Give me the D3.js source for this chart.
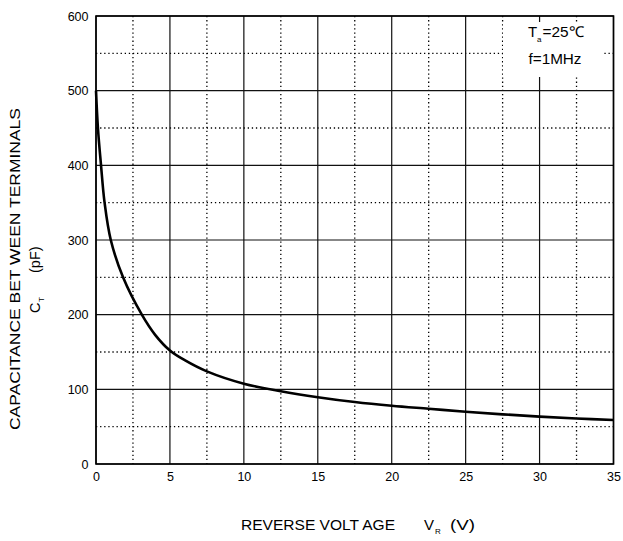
<html>
  <head>
    <script src="https://d3js.org/d3.v7.min.js"></script>
    <style>
      body { margin: 0; background: #fff; }
      svg text { font-family: "Liberation Sans", Arial, sans-serif; fill: #000; }
    </style>
  </head>
  <body>
    <svg class="chart"></svg>
  </body>
  <script>
  // values
  const volts = [0, 0.13, 0.34, 0.58, 1.0, 1.83, 3.1, 4.0, 5.0, 6.0, 7.5, 10, 12.5, 15, 17.5, 20, 22.5, 25, 27.5, 30, 32.5, 35];
  const capacitance = [500, 450, 400, 350, 300, 250, 200, 173, 152, 139, 124, 107.5, 97.5, 89.5, 83, 78, 74, 70, 66.5, 63.5, 61, 59];
  const xMajor = [0, 5, 10, 15, 20, 25, 30, 35];
  const xMinor = [2.5, 7.5, 12.5, 17.5, 22.5, 27.5, 32.5];
  const yMajor = [0, 100, 200, 300, 400, 500, 600];
  const yMinor = [50, 150, 250, 350, 450, 550];

  function drawChart(){
    let width = 623, height = 541;
    let plot = {left: 96, right: 613.5, top: 16, bottom: 464};

    let svg = d3.select('.chart')
      .attr('width', width)
      .attr('height', height)
      .attr('viewBox', [0, 0, width, height]);

    let x = d3.scaleLinear().domain([0, 35]).range([plot.left, plot.right]);
    let y = d3.scaleLinear().domain([0, 600]).range([plot.bottom, plot.top]);

    let grid = svg.append('g');
    // dotted minor grid
    grid.selectAll('.vminor').data(xMinor).join('line')
      .attr('x1', d=>x(d)).attr('x2', d=>x(d))
      .attr('y1', plot.top).attr('y2', plot.bottom)
      .attr('stroke', '#000').attr('stroke-width', 1.3)
      .attr('stroke-dasharray', '1.3,2.8');
    grid.selectAll('.hminor').data(yMinor).join('line')
      .attr('y1', d=>y(d)).attr('y2', d=>y(d))
      .attr('x1', plot.left).attr('x2', plot.right)
      .attr('stroke', '#000').attr('stroke-width', 1.3)
      .attr('stroke-dasharray', '1.3,2.8');
    // solid major grid
    grid.selectAll('.vmajor').data(xMajor).join('line')
      .attr('x1', d=>x(d)).attr('x2', d=>x(d))
      .attr('y1', plot.top).attr('y2', plot.bottom)
      .attr('stroke', '#111').attr('stroke-width', 1.2);
    grid.selectAll('.hmajor').data(yMajor).join('line')
      .attr('y1', d=>y(d)).attr('y2', d=>y(d))
      .attr('x1', plot.left).attr('x2', plot.right)
      .attr('stroke', '#111').attr('stroke-width', 1.2);

    // legend box blanks out the grid
    svg.append('rect')
      .attr('x', 503).attr('y', 22).attr('width', 100).attr('height', 55)
      .attr('fill', '#fff');

    // frame
    svg.append('rect')
      .attr('x', plot.left).attr('y', plot.top)
      .attr('width', plot.right - plot.left).attr('height', plot.bottom - plot.top)
      .attr('fill', 'none').attr('stroke', '#000').attr('stroke-width', 1.6);

    // curve
    let line = d3.line()
      .x((d, i)=>x(volts[i]))
      .y(d=>y(d))
      .curve(d3.curveCatmullRom.alpha(0.5));
    svg.append('path')
      .datum(capacitance)
      .attr('d', line)
      .attr('fill', 'none')
      .attr('stroke', '#000')
      .attr('stroke-width', 2.6);

    // axes (labels only)
    let xAxis = svg.append('g')
      .attr('transform', `translate(0,${plot.bottom})`)
      .call(d3.axisBottom(x).tickValues(xMajor).tickSize(0).tickPadding(8.5));
    let yAxis = svg.append('g')
      .attr('transform', `translate(${plot.left},0)`)
      .call(d3.axisLeft(y).tickValues(yMajor).tickSize(0).tickPadding(7.5));
    [xAxis, yAxis].forEach(a=>{
      a.select('.domain').remove();
      a.selectAll('text')
        .attr('font-family', '"Liberation Sans", Arial, sans-serif')
        .attr('font-size', 12.5)
        .attr('fill', '#000');
    });

    // x title
    let xt = svg.append('g').attr('font-size', 15);
    xt.append('text').attr('x', 241).attr('y', 530)
      .attr('textLength', 154).attr('lengthAdjust', 'spacingAndGlyphs')
      .text('REVERSE VOLT AGE');
    xt.append('text').attr('x', 424).attr('y', 530).text('V');
    xt.append('text').attr('x', 435).attr('y', 534).attr('font-size', 8).text('R');
    xt.append('text').attr('x', 450).attr('y', 530)
      .attr('textLength', 25).attr('lengthAdjust', 'spacingAndGlyphs').text('(V)');

    // y title
    let yt = svg.append('g').attr('font-size', 14.5);
    yt.append('text')
      .attr('transform', 'translate(20,269) rotate(-90)')
      .attr('text-anchor', 'middle')
      .attr('textLength', 322).attr('lengthAdjust', 'spacingAndGlyphs')
      .text('CAPACITANCE BET WEEN TERMINALS');
    let l2 = yt.append('g').attr('transform', 'translate(40,0) rotate(-90)');
    l2.append('text').attr('x', -313).attr('y', 0).text('C');
    l2.append('text').attr('x', -302).attr('y', 4).attr('font-size', 8).text('T');
    l2.append('text').attr('x', -273).attr('y', 0).text('(pF)');

    // conditions
    let lg = svg.append('g').attr('font-size', 15);
    lg.append('text').attr('x', 528).attr('y', 37).text('T');
    lg.append('text').attr('x', 537).attr('y', 41.5).attr('font-size', 8).text('a');
    lg.append('text').attr('x', 542.5).attr('y', 37)
      .attr('textLength', 41.5).attr('lengthAdjust', 'spacingAndGlyphs').text('=25℃');
    lg.append('text').attr('x', 528.5).attr('y', 64)
      .attr('textLength', 53).attr('lengthAdjust', 'spacingAndGlyphs').text('f=1MHz');
  }

  drawChart();
  </script>
</html>
